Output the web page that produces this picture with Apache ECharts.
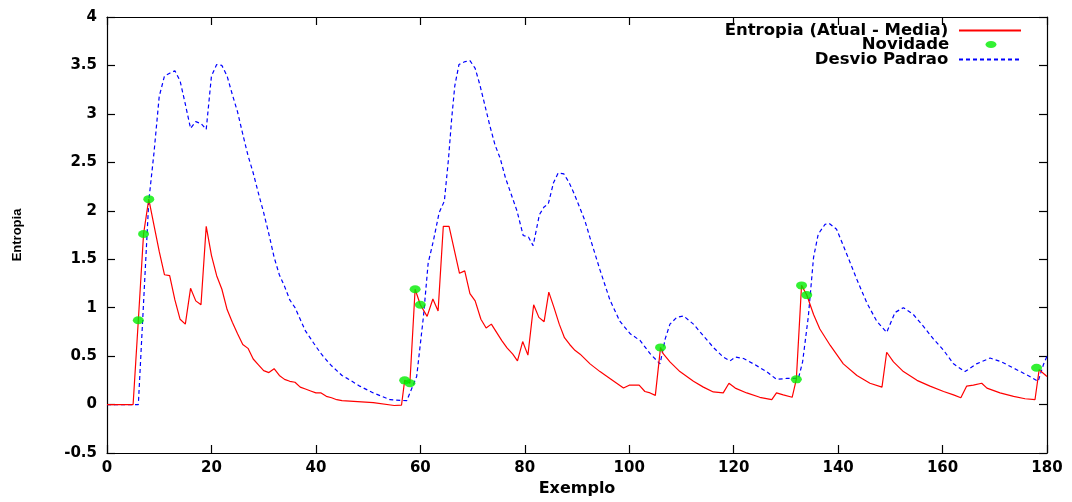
<!DOCTYPE html>
<html>
<head>
<meta charset="utf-8">
<script src="https://cdn.jsdelivr.net/npm/echarts@6/dist/echarts.min.js"></script>
<style>
html,body{margin:0;padding:0;background:#fff;}
#chart{width:1072px;height:502px;}
</style>
</head>
<body>
<div id="chart"></div>
<script>
// Entropia (Atual - Media)
const redX = [0,5,6,7,8,9,10,11,12,13,14,15,16,17,18,19,20,21,22,23,24,25,26,27,28,29,30,31,32,33,34,35,36,37,38,39,40,41,42,43,44,45,48,51,55,56.4,
  57,58,59,60,61.3,62.4,63.4,64.4,65.5,67.5,68.5,69.5,70.5,71.6,72.6,73.6,74.6,75.6,76.6,77.7,78.6,79.6,80.6,81.7,82.7,83.7,84.6,85.6,86.6,87.6,88.6,89.6,90.6,92.5,94.4,96.3,98.9,100,101.9,103,104,105,
  106,106.5,107.8,109.7,112.3,114.2,116.1,118,119.1,120.3,122.5,125,127.3,128.2,129.5,131.2,132,133,134,135.3,136.5,138.5,141,143.6,146.1,148.4,149.3,150.6,152.5,155.1,157.6,160.2,162.1,163.5,164.6,165.9,167.5,168.5,171,173.6,175.8,177.7,178.5,180];
const redY = [0,0,0.87,1.76,2.12,1.85,1.58,1.34,1.33,1.08,0.88,0.83,1.20,1.07,1.03,1.84,1.54,1.33,1.19,0.98,0.85,0.73,0.62,0.58,0.47,0.41,0.35,0.33,0.37,0.30,0.26,0.24,0.23,0.18,0.16,0.14,0.12,0.12,0.085,0.07,0.05,0.04,0.03,0.02,-0.01,-0.005,
  0.25,0.22,1.19,1.03,0.91,1.09,0.965,1.84,1.84,1.355,1.38,1.145,1.07,0.88,0.79,0.83,0.745,0.66,0.585,0.52,0.45,0.65,0.51,1.03,0.90,0.855,1.16,1.0,0.83,0.69,0.62,0.56,0.52,0.42,0.34,0.27,0.17,0.20,0.20,0.135,0.12,0.095,
  0.59,0.525,0.44,0.34,0.24,0.18,0.13,0.12,0.22,0.17,0.12,0.075,0.05,0.12,0.10,0.075,0.26,1.23,1.13,0.93,0.78,0.61,0.42,0.30,0.22,0.18,0.54,0.44,0.34,0.25,0.19,0.135,0.10,0.07,0.19,0.20,0.22,0.17,0.12,0.085,0.06,0.05,0.36,0.29];

// Desvio Padrao
const blueX = [0,6,8,9,10,11,12,13,14,15,16,17,18,19,20,21,22,23,24,25,26,27,28,29,30,31,32,33,34,35,36,37,38,39,40,41,42,43,44,45,46,48.4,51,54.2,57.4,
  59.3,60.6,61.5,62.5,63.6,64.6,65.4,66,66.6,67.4,68.6,69.5,70.5,71.4,72.4,73.3,74.3,75.3,76.3,77.4,78.5,79.7,80.7,81.6,82.8,83.7,84.5,85.5,86.4,87.5,88.5,89.5,90.4,91.5,92.5,94.4,96.3,98.2,100.2,102.1,104,105.9,
  106.9,107.8,109.1,110.4,112.3,114.2,116.1,118,119.3,120.3,121.9,123.8,126.3,128.2,130.2,132.4,133.2,134.3,135.3,136.2,137.5,138.3,139.7,141.6,143.6,145.5,147.4,149.3,150.9,152.5,154.4,156.3,158.2,160.2,162.1,164.3,166.5,169.1,171.3,174.2,176.7,178.3,179.3,180];
const blueY = [0,0,2.1,2.6,3.18,3.39,3.42,3.445,3.34,3.10,2.85,2.92,2.90,2.84,3.39,3.51,3.50,3.39,3.20,3.02,2.79,2.57,2.39,2.18,1.98,1.76,1.52,1.34,1.22,1.08,1.0,0.88,0.76,0.68,0.60,0.525,0.46,0.40,0.35,0.30,0.27,0.19,0.12,0.05,0.04,
  0.29,0.91,1.46,1.69,1.98,2.10,2.54,2.95,3.29,3.51,3.54,3.55,3.47,3.30,3.08,2.88,2.68,2.54,2.34,2.17,2.0,1.745,1.73,1.64,1.96,2.04,2.07,2.29,2.39,2.38,2.29,2.17,2.05,1.90,1.72,1.39,1.08,0.86,0.73,0.66,0.525,0.42,
  0.68,0.83,0.90,0.915,0.83,0.71,0.59,0.49,0.45,0.49,0.475,0.42,0.34,0.26,0.27,0.27,0.44,0.91,1.52,1.76,1.86,1.87,1.81,1.56,1.29,1.05,0.86,0.745,0.95,1.0,0.93,0.81,0.68,0.56,0.42,0.34,0.42,0.48,0.44,0.36,0.29,0.24,0.41,0.50];

// Novidade
const novX = [6,7,8,57,58,59,60,106,132,133,134,178];
const novY = [0.87,1.76,2.12,0.25,0.22,1.19,1.03,0.59,0.26,1.23,1.13,0.38];

const seriesNames = ['Entropia (Atual - Media)', 'Novidade', 'Desvio Padrao'];
const xTicks = {min: 0, max: 180, interval: 20};
const yTicks = {min: -0.5, max: 4, interval: 0.5};

const zip = (xs, ys) => xs.map((x, i) => [x, ys[i]]);

const FONT = 'DejaVu Sans';
const chart = echarts.init(document.getElementById('chart'), null, {renderer: 'canvas'});

const axisLine = {show: true, onZero: false, lineStyle: {color: '#000', width: 1.2}};
const tick = {show: true, inside: true, length: 8, lineStyle: {color: '#000', width: 1.2}};
const ELLIPSE = 'path://M0,4 A6,4 0 1,1 12,4 A6,4 0 1,1 0,4 Z';
// legend icon: ellipse centred in a 62x7 box
const LEGEND_ELLIPSE = 'path://M0,0 M62,7 M25.5,3.5 A5.5,3.5 0 1,1 36.5,3.5 A5.5,3.5 0 1,1 25.5,3.5 Z';

function legendFor(name, top, extra) {
  return Object.assign({
    data: [name],
    right: 50,
    top: top,
    align: 'right',
    orient: 'vertical',
    padding: 0,
    itemWidth: 62,
    itemHeight: 10,
    selectedMode: false,
    itemStyle: {opacity: 0},
    formatter: n => n + ' ',
    textStyle: {fontFamily: FONT, fontWeight: 'bold', fontSize: 16.5, color: '#000'}
  }, extra || {});
}

chart.setOption({
  animation: false,
  backgroundColor: '#fff',
  grid: {left: 107, right: 25, top: 17, bottom: 43, containLabel: false},
  legend: [
    legendFor(seriesNames[0], 22),
    legendFor(seriesNames[1], 36, {icon: LEGEND_ELLIPSE, itemHeight: 7, symbolKeepAspect: false, itemStyle: {}}),
    legendFor(seriesNames[2], 51)
  ],
  xAxis: [
    {
      type: 'value', min: xTicks.min, max: xTicks.max, interval: xTicks.interval,
      position: 'bottom',
      axisLine: axisLine, axisTick: tick, splitLine: {show: false},
      axisLabel: {fontFamily: FONT, fontWeight: 'bold', fontSize: 15, color: '#000', margin: 8},
      name: 'Exemplo', nameLocation: 'middle', nameGap: 28,
      nameTextStyle: {fontFamily: FONT, fontWeight: 'bold', fontSize: 16, color: '#000'}
    },
    {
      type: 'value', min: xTicks.min, max: xTicks.max, interval: xTicks.interval,
      position: 'top',
      axisLine: axisLine, axisTick: tick, splitLine: {show: false},
      axisLabel: {show: false}
    }
  ],
  yAxis: [
    {
      type: 'value', min: yTicks.min, max: yTicks.max, interval: yTicks.interval,
      position: 'left',
      axisLine: axisLine, axisTick: tick, splitLine: {show: false},
      axisLabel: {fontFamily: FONT, fontWeight: 'bold', fontSize: 15, color: '#000', margin: 10},
      name: 'Entropia', nameLocation: 'middle', nameGap: 83, nameRotate: 90,
      nameTextStyle: {fontFamily: 'Liberation Sans', fontWeight: 'bold', fontSize: 13, color: '#000'}
    },
    {
      type: 'value', min: yTicks.min, max: yTicks.max, interval: yTicks.interval,
      position: 'right',
      axisLine: axisLine, axisTick: tick, splitLine: {show: false},
      axisLabel: {show: false}
    }
  ],
  series: [
    {
      name: seriesNames[0], type: 'line', data: zip(redX, redY),
      symbol: 'none', lineStyle: {color: '#ff0000', width: 1.2}, itemStyle: {color: '#ff0000'},
      z: 3
    },
    {
      name: seriesNames[2], type: 'line', data: zip(blueX, blueY),
      symbol: 'none', lineStyle: {color: '#0000ff', width: 1.2, type: [4, 3]}, itemStyle: {color: '#0000ff'},
      z: 2
    },
    {
      name: seriesNames[1], type: 'scatter', data: zip(novX, novY),
      symbol: ELLIPSE, symbolSize: [11, 8],
      itemStyle: {color: '#00ee00'},
      z: 4
    }
  ]
});
</script>
</body>
</html>
